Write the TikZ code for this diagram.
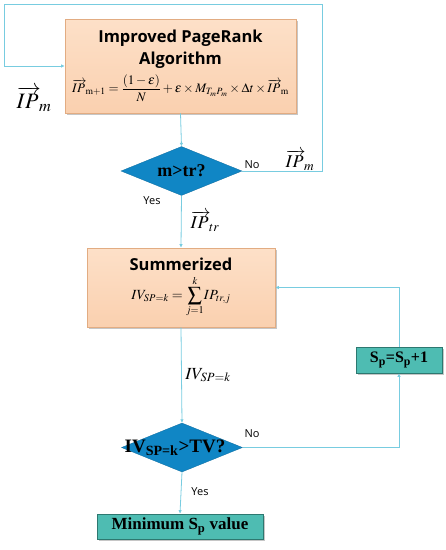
\documentclass[tikz,border=0pt]{standalone}
\usepackage{amsmath,amssymb}
\usepackage{mathptmx}
\usepackage[no-math]{fontspec}
\setmainfont{Liberation Serif}
\newfontfamily\headfont{Open Sans}
\usetikzlibrary{arrows.meta,positioning,calc,shapes.geometric,shadows}
\definecolor{peachfill}{RGB}{250,208,175}
\definecolor{peachtop}{RGB}{253,224,200}
\definecolor{peachline}{RGB}{226,172,130}
\definecolor{tealfill}{RGB}{78,188,178}
\definecolor{tealline}{RGB}{45,120,112}
\definecolor{decblue}{RGB}{16,134,197}
\definecolor{flowblue}{RGB}{120,204,224}
\tikzset{
  procbox/.style={draw=peachline,line width=0.6pt,top color=peachtop,bottom color=peachfill,
    drop shadow={shadow xshift=2pt,shadow yshift=-2pt,opacity=0.45},align=center,inner sep=0pt,
    font=\headfont\bfseries\fontsize{16.5}{22}\selectfont},
  resbox/.style={draw=tealline,line width=0.6pt,fill=tealfill,
    drop shadow={shadow xshift=2pt,shadow yshift=-2pt,opacity=0.45},inner sep=0pt,
    font=\fontsize{17}{19}\selectfont\bfseries},
  decide/.style={diamond,fill=decblue,draw=decblue!80!black,line width=0.3pt,
    minimum width=121pt,minimum height=49pt,inner sep=0pt},
  dectext/.style={font=\fontsize{18}{20}\selectfont\bfseries,inner sep=0pt},
  flow/.style={draw=flowblue,line width=0.8pt,-{Latex[length=3.5pt,width=3.5pt]}},
  yesno/.style={font=\headfont\fontsize{11}{13}\selectfont},
  veclabel/.style={font=\fontsize{18}{20}\selectfont,inner sep=1pt}
}
\newcommand{\vIP}[1]{\overrightarrow{IP\,}_{\!#1}}

\begin{document}
\begin{tikzpicture}[x=1pt,y=-1pt]
\useasboundingbox (0,0) rectangle (446,550);
% process boxes
\node[procbox,minimum width=231pt,minimum height=94pt] (alg) at (180.5,66)
  {Improved PageRank\\Algorithm\\[5pt]
   \normalfont\fontsize{13}{15}\selectfont$\vIP{\mathrm{m+1}}=\dfrac{(1-\varepsilon)}{N}+\varepsilon\times M_{T_mP_m}\times\Delta t\times\vIP{\mathrm{m}}$};
\node[procbox,minimum width=188pt,minimum height=79pt] (sum) at (181,287.5)
  {Summerized\\[4pt]
   \normalfont\fontsize{14}{16}\selectfont$IV_{SP=k}=\displaystyle\sum_{j=1}^{k}\!IP_{tr,j}$};
% decisions
\node[decide] (d1) at (181.5,171) {};
\node[dectext] (d1txt) at (d1.center) {m>tr?};
\node[decide] (d2) at (182,447.5) {};
\node[dectext,font=\fontsize{19}{21}\selectfont\bfseries,xshift=-7pt] (d2txt) at (d2.center) {IV\textsubscript{SP=k}>TV?};
% results
\node[resbox,minimum width=86pt,minimum height=26pt,font=\fontsize{16}{18}\selectfont\bfseries] (inc) at (399,360) {S\textsubscript{p}=S\textsubscript{p}+1};
\node[resbox,minimum width=166pt,minimum height=25pt] (minsp) at (180,526.5) {Minimum S\textsubscript{p} value};
% loop corners
\coordinate (loopR) at (322,4);
\coordinate (loopL) at (4,4);
% connectors
\draw[flow] (alg.south) -- (d1.north);
\draw[flow] (d1.east) -| (loopR) -| (loopL) |- (alg.west);
\draw[flow] (d1.south) -- (sum.north);
\draw[flow] (sum.south) -- (d2.north);
\draw[flow] (d2.east) -| (inc.south);
\draw[flow] (inc.north) |- (sum.east);
\draw[flow] (d2.south) -- (minsp.north);
% labels
\node[veclabel,font=\fontsize{22}{24}\selectfont] (ipleft) at (34,99) {$\vIP{m}$};
\node[yesno] (no1) at (252,165) {No};
\node[veclabel] (ipno) at (300,160) {$\vIP{m}$};
\node[yesno] (yes1) at (152,201) {Yes};
\node[veclabel] (iptr) at (205,221) {$\vIP{tr}$};
\node[veclabel,font=\fontsize{17}{19}\selectfont] (ivlab) at (208,375) {$IV_{SP=k}$};
\node[yesno] (no2) at (252,434) {No};
\node[yesno] (yes2) at (200,492) {Yes};
\end{tikzpicture}
\end{document}
